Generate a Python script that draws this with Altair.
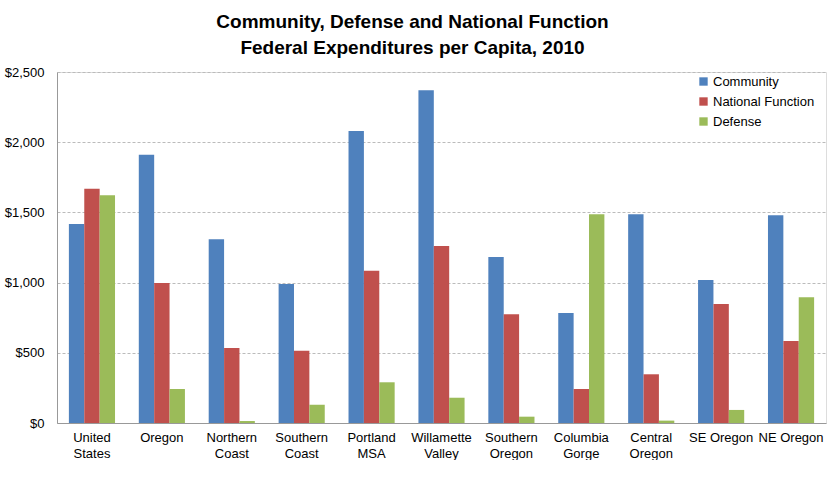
import altair as alt
import pandas as pd

categories = ["United States", "Oregon", "Northern Coast", "Southern Coast", "Portland MSA",
              "Willamette Valley", "Southern Oregon", "Columbia Gorge", "Central Oregon",
              "SE Oregon", "NE Oregon"]
series = ["Community", "National Function", "Defense"]
community = [1417, 1911, 1308, 990, 2080, 2370, 1182, 783, 1486, 1018, 1479]
national = [1669, 997, 534, 515, 1085, 1261, 774, 242, 347, 848, 584]
defense = [1622, 242, 14, 130, 290, 180, 45, 1486, 17, 93, 895]
colors = ["#4F81BD", "#C0504D", "#9BBB59"]

rows = []
for i, c in enumerate(categories):
    for s, vals in zip(series, [community, national, defense]):
        rows.append({"Region": c, "Series": s, "Value": vals[i]})
df = pd.DataFrame(rows)

font = "Liberation Sans"

chart = alt.Chart(df).mark_bar().encode(
    x=alt.X("Region:N", sort=categories, title=None,
            scale=alt.Scale(paddingInner=0.34, paddingOuter=0.17),
            axis=alt.Axis(labelAngle=0, ticks=False, domainColor="#999999",
                          labelFont=font, labelFontSize=13, labelColor="#000000",
                          labelPadding=8, labelLineHeight=16,
                          labelExpr="(datum.label == 'SE Oregon' || datum.label == 'NE Oregon') ? datum.label : split(datum.label, ' ')")),
    xOffset=alt.XOffset("Series:N", sort=series),
    y=alt.Y("Value:Q", title=None,
            scale=alt.Scale(domain=[0, 2500]),
            axis=alt.Axis(values=[0, 500, 1000, 1500, 2000, 2500], format="$,.0f",
                          ticks=False, domainColor="#999999", gridColor="#bbbbbb",
                          gridDash=[3, 2], labelFont=font, labelFontSize=13,
                          labelColor="#000000", labelPadding=13)),
    color=alt.Color("Series:N", sort=series,
                    scale=alt.Scale(domain=series, range=colors),
                    legend=alt.Legend(title=None, orient="none", legendX=640, legendY=3,
                                      symbolType="square", symbolSize=70,
                                      symbolStrokeWidth=0, labelFont=font,
                                      labelFontSize=13, labelColor="#000000",
                                      rowPadding=6, labelOffset=3)),
).properties(
    width=769, height=351,
    title=alt.TitleParams(["Community, Defense and National Function",
                           "Federal Expenditures per Capita, 2010"],
                          anchor="middle", dx=-29, font=font,
                          fontSize=19, fontWeight="bold", color="#000000",
                          lineHeight=26, offset=8),
    padding={"left": 4, "top": 13, "right": 2, "bottom": 0},
).configure_view(stroke=None).configure(background="#ffffff")

chart.save("out.html", embed_options={"renderer": "svg", "actions": False})
